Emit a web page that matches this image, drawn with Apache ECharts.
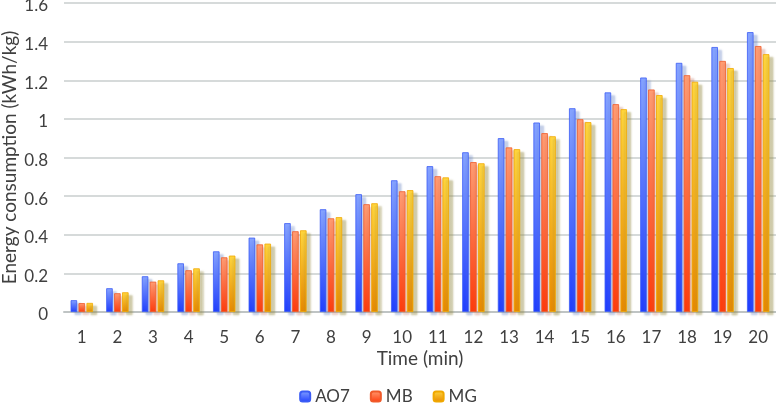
<!DOCTYPE html>
<html>
<head>
<meta charset="utf-8">
<script src="https://cdn.jsdelivr.net/npm/echarts@6/dist/echarts.min.js"></script>
<style>
html,body{margin:0;padding:0;background:#fff;}
#chart{width:776px;height:403px;}
</style>
</head>
<body>
<div id="chart"></div>
<script>
const categories = ['1','2','3','4','5','6','7','8','9','10','11','12','13','14','15','16','17','18','19','20'];
const seriesNames = ['AO7','MB','MG'];
const ao7 = [0.061,0.123,0.185,0.252,0.314,0.385,0.460,0.532,0.610,0.682,0.755,0.827,0.900,0.981,1.055,1.137,1.214,1.290,1.372,1.449];
const mb  = [0.046,0.097,0.157,0.216,0.283,0.350,0.418,0.485,0.558,0.625,0.703,0.776,0.852,0.926,0.998,1.076,1.152,1.226,1.300,1.377];
const mg  = [0.047,0.102,0.164,0.226,0.292,0.354,0.423,0.491,0.563,0.631,0.697,0.770,0.843,0.910,0.983,1.050,1.123,1.192,1.263,1.335];
const yTicks = {min:0, max:1.6, interval:0.2};

const chart = echarts.init(document.getElementById('chart'));
function grad(top, bottom){
  return new echarts.graphic.LinearGradient(0,0,0,1,[{offset:0,color:top},{offset:1,color:bottom}]);
}
const styles = [
  {color: grad('#86a4ff','#1f3dff'), borderColor:'#3b5cf5', shadowColor:'rgba(90,120,190,0.35)'},
  {color: grad('#ff9d74','#ff3a0a'), borderColor:'#f05a2a', shadowColor:'rgba(190,110,90,0.3)'},
  {color: grad('#ffd63e','#e88900'), borderColor:'#f0a800', shadowColor:'rgba(150,140,70,0.45)'}
];
const data = [ao7, mb, mg];
const font = 'Lato, "Open Sans", sans-serif';
chart.setOption({
  animation:false,
  backgroundColor:'#fff',
  textStyle:{fontFamily:font},
  grid:{left:64,right:0,top:3,bottom:91,containLabel:false,outerBoundsMode:'none'},
  legend:{
    data:seriesNames, top:383, left:'center', itemWidth:10, itemHeight:10, itemGap:20,
    textStyle:{fontSize:17,color:'#404040',fontFamily:font}
  },
  xAxis:{
    type:'category', data:categories,
    name:'Time (min)', nameLocation:'middle', nameGap:37, nameMoveOverlap:false,
    nameTextStyle:{fontSize:19,color:'#404040',fontFamily:font},
    axisLine:{lineStyle:{color:'#bfc4c4',width:2}},
    axisTick:{show:false},
    axisLabel:{fontSize:17,color:'#404040',margin:17,fontFamily:font}
  },
  yAxis:{
    type:'value', min:yTicks.min, max:yTicks.max, interval:yTicks.interval,
    name:'Energy consumption (kWh/kg)', nameLocation:'middle', nameGap:45, nameMoveOverlap:false,
    nameTextStyle:{fontSize:19,color:'#404040',fontFamily:font},
    axisLine:{show:false}, axisTick:{show:false},
    axisLabel:{fontSize:17,color:'#404040',margin:16,fontFamily:font,verticalAlign:'top',lineHeight:6,
      formatter:v=>String(Math.round(v*10)/10)},
    splitLine:{lineStyle:{color:'#d6dada',width:2}}
  },
  series: seriesNames.map((n,i)=>({
    name:n, type:'bar', data:data[i], barWidth:6.5, barGap:'22%',
    itemStyle:{color:styles[i].color, borderColor:styles[i].borderColor, borderWidth:0.8,
      shadowColor:styles[i].shadowColor, shadowOffsetX:4, shadowOffsetY:3, shadowBlur:2}
  }))
});
</script>
</body>
</html>
